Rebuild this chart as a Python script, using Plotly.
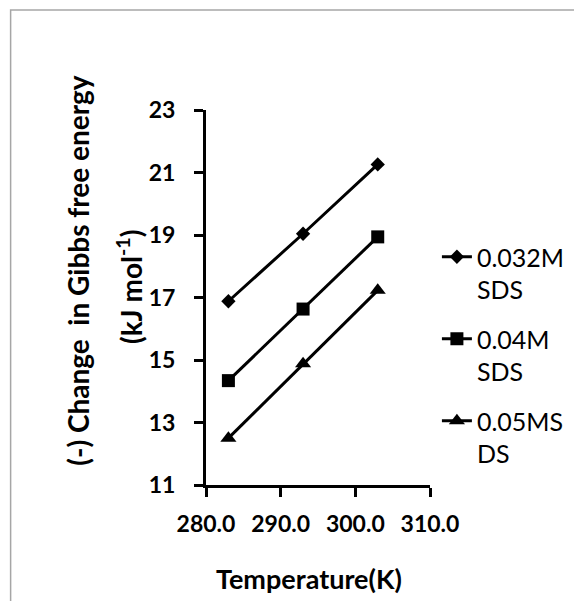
import plotly.graph_objects as go

# ---- data ----
temperature = [283, 293, 303]
sds_0032 = [16.88, 19.04, 21.26]
sds_004 = [14.34, 16.63, 18.94]
sds_005 = [12.50, 14.88, 17.23]

series_names = ["0.032M<br>SDS", "0.04M<br>SDS", "0.05MS<br>DS"]
x_ticks = [280.0, 290.0, 300.0, 310.0]
y_ticks = [11, 13, 15, 17, 19, 21, 23]

# ---- layout geometry (window pixels; page body has an 8px margin) ----
OFF = 8
W, H = 582 - OFF, 601 - OFF
L, R, T, B = 206 - OFF, 433 - OFF, 110 - OFF, 485 - OFF  # plot-area edges in figure px


def px(x):
    return (x - OFF - L) / (R - L)


def py(y):
    return (B - (y - OFF)) / (B - T)


FONT = "Lato"

fig = go.Figure()
symbols = ["diamond", "square", "triangle-up"]
sizes = [11, 13, 14]
for i, (vals, name) in enumerate(zip([sds_0032, sds_004, sds_005], series_names)):
    fig.add_trace(go.Scatter(
        x=temperature, y=vals, name=name, mode="lines+markers",
        legendgroup=f"g{i}",
        line=dict(color="black", width=3),
        marker=dict(symbol=symbols[i], size=sizes[i], color="black",
                    line=dict(width=0)),
    ))

axis_common = dict(
    showline=True, linecolor="black", linewidth=3, mirror=False,
    ticks="outside", ticklen=9, tickwidth=3, tickcolor="black",
    showgrid=False, zeroline=False,
)

fig.update_xaxes(
    range=[280, 310], tickvals=x_ticks, tickformat=".1f",
    tickfont=dict(family=FONT, size=23, color="black", weight="bold"),
    ticklabelstandoff=7,
    **axis_common,
)
fig.update_yaxes(
    range=[11, 23], tickvals=y_ticks,
    tickfont=dict(family=FONT, size=23, color="black", weight="bold"),
    ticklabelstandoff=14,
    **axis_common,
)

fig.update_layout(
    width=W, height=H,
    margin=dict(l=L, r=W - R, t=T, b=H - B, pad=0),
    paper_bgcolor="white", plot_bgcolor="white",
    showlegend=True,
    legend=dict(
        x=px(440), y=py(234), xanchor="left", yanchor="top",
        font=dict(family=FONT, size=25, color="black"),
        tracegroupgap=14, valign="top", bgcolor="rgba(0,0,0,0)",
        itemsizing="trace",
    ),
    annotations=[
        dict(text="<b>Temperature(K)</b>", x=px(310), y=py(578),
             xref="paper", yref="paper", xanchor="center", yanchor="middle",
             showarrow=False, font=dict(family=FONT, size=27, color="black")),
        dict(text="<b>(-) Change  in Gibbs free energy</b>", x=px(76), y=py(270),
             xref="paper", yref="paper", xanchor="center", yanchor="middle",
             textangle=-90, showarrow=False,
             font=dict(family=FONT, size=28, color="black")),
        dict(text="<b>(kJ mol<sup>-1</sup>)</b>", x=px(128), y=py(287),
             xref="paper", yref="paper", xanchor="center", yanchor="middle",
             textangle=-90, showarrow=False,
             font=dict(family=FONT, size=28, color="black")),
    ],
    shapes=[
        dict(type="rect", xref="paper", yref="paper",
             x0=px(8), x1=px(700), y0=py(700), y1=py(10),
             line=dict(color="#A6A6A6", width=1.5), fillcolor="rgba(0,0,0,0)",
             layer="below"),
    ],
)

fig.write_html("out.html")
